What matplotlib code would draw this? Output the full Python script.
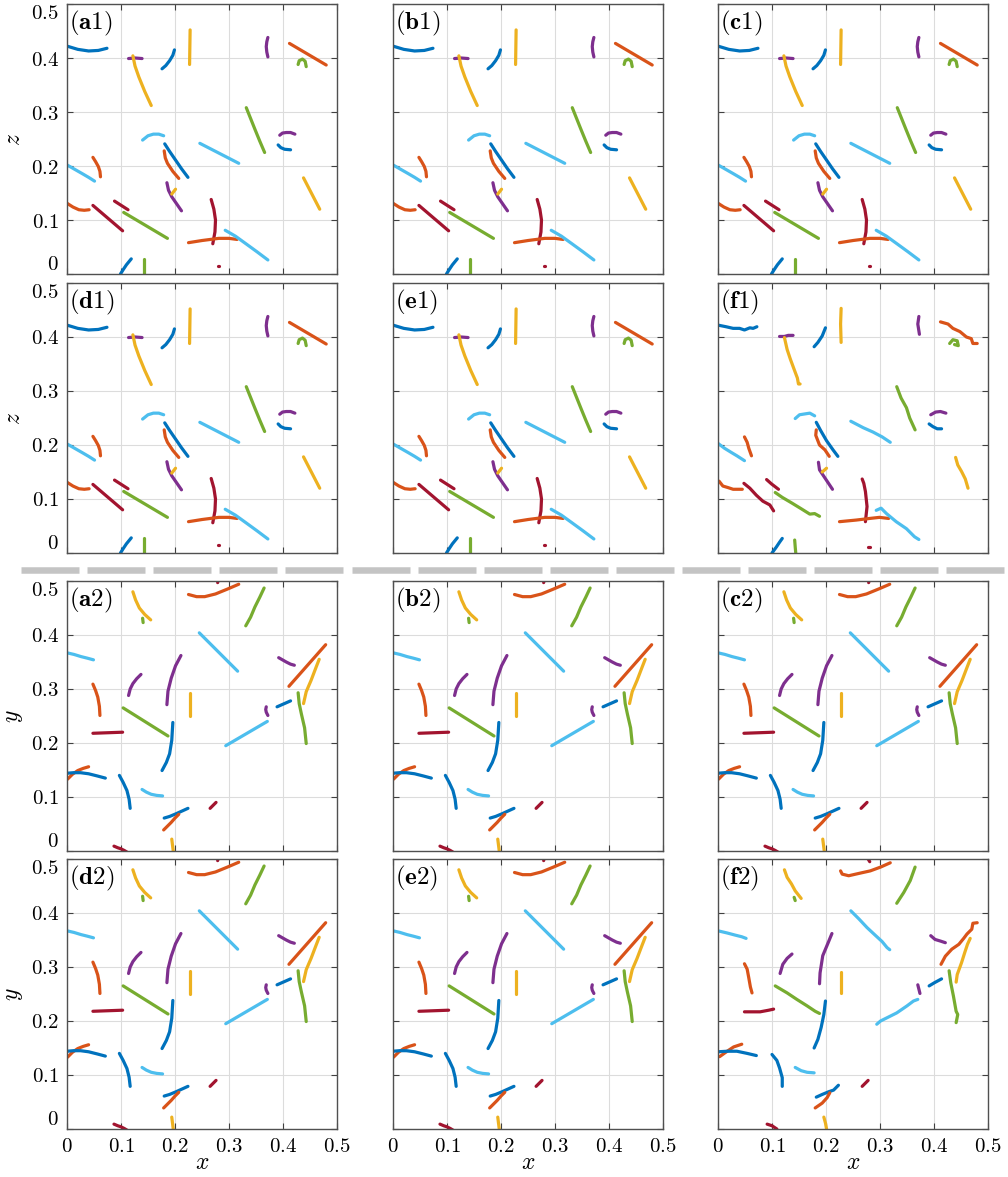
import matplotlib
matplotlib.use('Agg')
import matplotlib.pyplot as plt
from matplotlib.lines import Line2D

plt.rcParams['mathtext.fontset'] = 'cm'
plt.rcParams['font.family'] = ['DejaVu Serif']

# MATLAB default colour order
cols = {'b': '#0072BD', 'o': '#D95319', 'y': '#EDB120', 'p': '#7E2F8E',
        'g': '#77AC30', 'l': '#4DBEEE', 'r': '#A2142F'}

# ---- x-z projection (top half), panels a1..e1 ----
xz_x = [
    [0.000, 0.020, 0.040, 0.058, 0.074], [0.114, 0.126, 0.139],
    [0.122, 0.126, 0.133, 0.144, 0.156], [0.176, 0.183, 0.190, 0.196, 0.199],
    [0.228, 0.227], [0.372, 0.370, 0.369, 0.370, 0.372],
    [0.412, 0.480], [0.428, 0.430, 0.436, 0.441, 0.443],
    [0.332, 0.340, 0.348, 0.357, 0.366], [0.140, 0.150, 0.160, 0.170, 0.179],
    [0.246, 0.318], [0.394, 0.399, 0.406, 0.414, 0.422],
    [0.391, 0.396, 0.403, 0.414], [0.181, 0.190, 0.201, 0.212, 0.224],
    [0.180, 0.182, 0.186, 0.196, 0.207], [0.000, 0.014, 0.028, 0.040, 0.051],
    [0.048, 0.053, 0.058, 0.061, 0.062], [0.185, 0.188, 0.194, 0.203, 0.212],
    [0.194, 0.201], [0.438, 0.468], [0.000, 0.011, 0.022, 0.032, 0.041],
    [0.048, 0.103], [0.088, 0.113], [0.105, 0.186],
    [0.267, 0.272, 0.275, 0.274, 0.270], [0.225, 0.250, 0.281, 0.300, 0.315],
    [0.293, 0.312, 0.330, 0.352, 0.372], [0.099, 0.104, 0.110, 0.119],
    [0.143, 0.143], [0.280, 0.282],
]
xz_z = [
    [0.422, 0.416, 0.413, 0.414, 0.418], [0.399, 0.400, 0.399],
    [0.404, 0.385, 0.365, 0.338, 0.312], [0.380, 0.386, 0.395, 0.405, 0.415],
    [0.452, 0.388], [0.438, 0.430, 0.421, 0.411, 0.402],
    [0.427, 0.387], [0.388, 0.395, 0.398, 0.394, 0.384],
    [0.308, 0.288, 0.268, 0.246, 0.225], [0.248, 0.256, 0.259, 0.259, 0.256],
    [0.242, 0.205], [0.257, 0.261, 0.262, 0.262, 0.259],
    [0.239, 0.234, 0.231, 0.230], [0.241, 0.227, 0.211, 0.195, 0.179],
    [0.228, 0.215, 0.205, 0.190, 0.177], [0.202, 0.194, 0.186, 0.179, 0.172],
    [0.216, 0.208, 0.199, 0.190, 0.180], [0.169, 0.155, 0.143, 0.130, 0.117],
    [0.148, 0.157], [0.178, 0.120], [0.131, 0.124, 0.119, 0.118, 0.119],
    [0.127, 0.080], [0.135, 0.119], [0.114, 0.066],
    [0.138, 0.120, 0.100, 0.078, 0.056], [0.058, 0.062, 0.066, 0.066, 0.064],
    [0.081, 0.070, 0.057, 0.041, 0.026], [0.000, 0.008, 0.017, 0.028],
    [0.027, 0.000], [0.014, 0.014],
]
xz_c = ['b', 'p', 'y', 'b', 'y', 'p', 'o', 'g', 'g', 'l', 'l', 'p', 'b', 'b', 'o',
        'l', 'o', 'p', 'y', 'y', 'o', 'r', 'r', 'g', 'r', 'o', 'l', 'b', 'g', 'r']

# ---- x-y projection (bottom half), panels a2..e2 ----
xy_x = [
    [0.279, 0.282], [0.225, 0.240, 0.255, 0.275, 0.297, 0.318],
    [0.122, 0.127, 0.134, 0.144, 0.155], [0.140, 0.141],
    [0.331, 0.340, 0.348, 0.357, 0.365], [0.245, 0.316],
    [0.000, 0.013, 0.026, 0.038, 0.049], [0.392, 0.399, 0.406, 0.414, 0.421],
    [0.411, 0.479], [0.438, 0.443, 0.452, 0.460, 0.467],
    [0.114, 0.117, 0.122, 0.129, 0.137], [0.185, 0.187, 0.193, 0.201, 0.211],
    [0.227, 0.227], [0.048, 0.053, 0.057, 0.060, 0.061], [0.104, 0.187],
    [0.176, 0.184, 0.190, 0.194, 0.196], [0.048, 0.103], [0.294, 0.371],
    [0.369, 0.368, 0.369, 0.372], [0.389, 0.414],
    [0.428, 0.430, 0.434, 0.440, 0.443], [0.001, 0.010, 0.020, 0.030, 0.040],
    [0.000, 0.012, 0.025, 0.040, 0.056, 0.071], [0.097, 0.104, 0.111, 0.115, 0.117],
    [0.139, 0.147, 0.156, 0.166, 0.177], [0.180, 0.190, 0.202, 0.213, 0.224],
    [0.179, 0.186, 0.193, 0.200, 0.207], [0.265, 0.276],
    [0.087, 0.094, 0.100, 0.106, 0.111], [0.194, 0.197],
]
xy_y = [
    [0.497, 0.510], [0.475, 0.471, 0.471, 0.476, 0.485, 0.494],
    [0.480, 0.465, 0.450, 0.438, 0.428], [0.431, 0.423],
    [0.417, 0.433, 0.452, 0.470, 0.487], [0.404, 0.333],
    [0.367, 0.364, 0.360, 0.357, 0.354], [0.358, 0.354, 0.350, 0.346, 0.344],
    [0.305, 0.382], [0.273, 0.295, 0.316, 0.337, 0.355],
    [0.288, 0.300, 0.310, 0.319, 0.327], [0.271, 0.296, 0.320, 0.343, 0.362],
    [0.292, 0.250], [0.309, 0.297, 0.285, 0.268, 0.251], [0.265, 0.213],
    [0.149, 0.164, 0.180, 0.205, 0.238], [0.218, 0.220], [0.195, 0.240],
    [0.267, 0.262, 0.257, 0.251], [0.267, 0.278],
    [0.293, 0.273, 0.254, 0.228, 0.199], [0.133, 0.142, 0.149, 0.153, 0.156],
    [0.144, 0.145, 0.145, 0.143, 0.139, 0.135], [0.140, 0.127, 0.112, 0.096, 0.079],
    [0.114, 0.109, 0.105, 0.103, 0.102], [0.061, 0.064, 0.069, 0.074, 0.079],
    [0.039, 0.046, 0.053, 0.061, 0.068], [0.079, 0.090],
    [0.009, 0.006, 0.004, 0.001, -0.002], [0.022, -0.002],
]
xy_c = ['r', 'o', 'y', 'g', 'g', 'l', 'l', 'p', 'o', 'y', 'p', 'p', 'y', 'o', 'g',
        'b', 'r', 'l', 'p', 'b', 'g', 'o', 'b', 'b', 'l', 'b', 'o', 'r', 'r', 'y']

# ---- noisy reconstruction, panel f1 (x-z) ----
f1_x = [
    [0.000, 0.015, 0.028, 0.040, 0.049, 0.059, 0.065, 0.072],
    [0.114, 0.123, 0.130, 0.139],
    [0.123, 0.128, 0.134, 0.141, 0.147, 0.149, 0.152],
    [0.178, 0.185, 0.193, 0.199],
    [0.228, 0.227, 0.228],
    [0.372, 0.370, 0.373],
    [0.412, 0.426, 0.435, 0.448, 0.460, 0.469, 0.472, 0.480],
    [0.429, 0.435, 0.443, 0.445, 0.438],
    [0.331, 0.339, 0.349, 0.355, 0.365],
    [0.143, 0.151, 0.170, 0.179],
    [0.246, 0.269, 0.287, 0.304, 0.319],
    [0.394, 0.403, 0.412, 0.422],
    [0.391, 0.398, 0.406, 0.414],
    [0.182, 0.190, 0.201, 0.213, 0.222],
    [0.182, 0.181, 0.188, 0.198, 0.206],
    [0.000, 0.012, 0.025, 0.035, 0.049],
    [0.049, 0.054, 0.057, 0.062],
    [0.186, 0.188, 0.194, 0.204, 0.212],
    [0.193, 0.201],
    [0.440, 0.444, 0.451, 0.458, 0.463],
    [0.002, 0.009, 0.019, 0.028, 0.045],
    [0.048, 0.059, 0.071, 0.083, 0.096, 0.103],
    [0.090, 0.099, 0.112],
    [0.106, 0.119, 0.136, 0.154, 0.170, 0.179, 0.188],
    [0.267, 0.270, 0.273, 0.276, 0.273],
    [0.225, 0.256, 0.281, 0.299, 0.316],
    [0.293, 0.302, 0.312, 0.330, 0.349, 0.364, 0.372],
    [0.100, 0.108, 0.114, 0.119],
    [0.142, 0.143, 0.144],
    [0.278, 0.281],
]
f1_z = [
    [0.422, 0.419, 0.416, 0.416, 0.413, 0.417, 0.416, 0.419],
    [0.401, 0.401, 0.403, 0.403],
    [0.399, 0.377, 0.359, 0.340, 0.324, 0.313, 0.313],
    [0.382, 0.390, 0.402, 0.417],
    [0.453, 0.424, 0.390],
    [0.438, 0.424, 0.405],
    [0.428, 0.424, 0.416, 0.410, 0.400, 0.397, 0.388, 0.388],
    [0.388, 0.395, 0.393, 0.384, 0.386],
    [0.308, 0.287, 0.269, 0.250, 0.228],
    [0.249, 0.256, 0.259, 0.254],
    [0.244, 0.232, 0.224, 0.215, 0.205],
    [0.256, 0.261, 0.262, 0.259],
    [0.239, 0.234, 0.230, 0.230],
    [0.242, 0.227, 0.208, 0.191, 0.179],
    [0.228, 0.218, 0.200, 0.191, 0.179],
    [0.203, 0.194, 0.186, 0.180, 0.171],
    [0.215, 0.205, 0.194, 0.180],
    [0.168, 0.154, 0.145, 0.130, 0.118],
    [0.150, 0.157],
    [0.177, 0.163, 0.151, 0.137, 0.120],
    [0.133, 0.124, 0.121, 0.118, 0.118],
    [0.129, 0.120, 0.107, 0.096, 0.089, 0.078],
    [0.136, 0.128, 0.118],
    [0.112, 0.103, 0.093, 0.082, 0.072, 0.073, 0.068],
    [0.137, 0.129, 0.114, 0.086, 0.058],
    [0.058, 0.061, 0.064, 0.066, 0.064],
    [0.079, 0.083, 0.073, 0.058, 0.045, 0.030, 0.025],
    [0.000, 0.011, 0.020, 0.027],
    [0.024, 0.011, 0.000],
    [0.012, 0.012],
]

# ---- noisy reconstruction, panel f2 (x-y) ----
f2_x = [
    [0.278, 0.281],
    [0.227, 0.230, 0.242, 0.264, 0.282, 0.301, 0.319],
    [0.123, 0.128, 0.136, 0.143, 0.154],
    [0.141, 0.143],
    [0.331, 0.344, 0.356, 0.365],
    [0.246, 0.261, 0.276, 0.291, 0.304, 0.313, 0.318],
    [0.000, 0.017, 0.032, 0.044, 0.052],
    [0.394, 0.402, 0.412, 0.421],
    [0.413, 0.421, 0.433, 0.446, 0.455, 0.461, 0.470, 0.472, 0.480],
    [0.441, 0.443, 0.451, 0.457, 0.462, 0.467],
    [0.115, 0.120, 0.128, 0.137],
    [0.188, 0.189, 0.194, 0.204, 0.211],
    [0.228, 0.228],
    [0.049, 0.054, 0.057, 0.060, 0.063],
    [0.106, 0.128, 0.146, 0.165, 0.180, 0.188],
    [0.178, 0.185, 0.191, 0.196, 0.199],
    [0.049, 0.063, 0.078, 0.094, 0.103],
    [0.294, 0.301, 0.313, 0.331, 0.350, 0.362, 0.370],
    [0.370, 0.372, 0.374],
    [0.391, 0.401, 0.414],
    [0.428, 0.431, 0.436, 0.441, 0.444, 0.441],
    [0.003, 0.017, 0.029, 0.044],
    [0.000, 0.017, 0.035, 0.054, 0.071],
    [0.100, 0.109, 0.114, 0.119, 0.119],
    [0.143, 0.154, 0.165, 0.178],
    [0.182, 0.193, 0.205, 0.214, 0.223],
    [0.180, 0.193, 0.202, 0.207],
    [0.267, 0.273, 0.278],
    [0.091, 0.100, 0.109],
    [0.196, 0.199, 0.201],
]
f2_y = [
    [0.500, 0.495],
    [0.478, 0.472, 0.469, 0.474, 0.478, 0.485, 0.493],
    [0.480, 0.466, 0.454, 0.441, 0.427],
    [0.429, 0.423],
    [0.418, 0.438, 0.460, 0.485],
    [0.404, 0.389, 0.373, 0.359, 0.347, 0.336, 0.332],
    [0.367, 0.363, 0.359, 0.356, 0.353],
    [0.358, 0.351, 0.348, 0.345],
    [0.305, 0.320, 0.333, 0.342, 0.353, 0.361, 0.370, 0.381, 0.382],
    [0.272, 0.286, 0.308, 0.327, 0.342, 0.353],
    [0.288, 0.305, 0.316, 0.324],
    [0.269, 0.289, 0.321, 0.345, 0.362],
    [0.291, 0.251],
    [0.306, 0.296, 0.280, 0.263, 0.252],
    [0.265, 0.252, 0.240, 0.228, 0.218, 0.214],
    [0.150, 0.166, 0.188, 0.212, 0.237],
    [0.217, 0.217, 0.217, 0.220, 0.222],
    [0.194, 0.200, 0.206, 0.215, 0.228, 0.237, 0.240],
    [0.267, 0.259, 0.251],
    [0.265, 0.271, 0.278],
    [0.293, 0.271, 0.246, 0.218, 0.212, 0.197],
    [0.134, 0.144, 0.152, 0.157],
    [0.143, 0.144, 0.144, 0.140, 0.136],
    [0.138, 0.127, 0.113, 0.095, 0.079],
    [0.114, 0.108, 0.105, 0.104],
    [0.059, 0.064, 0.069, 0.072, 0.081],
    [0.039, 0.048, 0.058, 0.067],
    [0.079, 0.085, 0.090],
    [0.009, 0.006, 0.000],
    [0.022, 0.011, 0.000],
]

letters = ['a', 'b', 'c', 'd', 'e', 'f']
ticks = [0, 0.1, 0.2, 0.3, 0.4, 0.5]
tick_txt = ['$0$', '$0.1$', '$0.2$', '$0.3$', '$0.4$', '$0.5$']

fig = plt.figure(figsize=(10.08, 11.77), dpi=100)
W, H = 1008.0, 1177.0
lefts = [67, 393, 718]
bottoms = [274, 553, 851, 1129]   # pixel row of each panel's lower edge
pw, ph = 270, 270


def draw_panel(ax, xs, ys, cs, label, show_x, show_y, ylab):
    for xx, yy, c in zip(xs, ys, cs):
        ax.plot(xx, yy, color=cols[c], lw=2.3, solid_capstyle='round',
                solid_joinstyle='round')
    ax.set_xlim(0, 0.5)
    ax.set_ylim(0, 0.5)
    ax.set_xticks(ticks)
    ax.set_yticks(ticks)
    ax.grid(True, color='#dcdcdc', lw=0.8)
    ax.set_axisbelow(True)
    ax.tick_params(direction='in', top=True, right=True, length=4, width=0.8,
                   color='#404040', labelsize=15, pad=6)
    for sp in ax.spines.values():
        sp.set_color('#505050')
        sp.set_linewidth(1.0)
    if show_x:
        ax.set_xticklabels(tick_txt)
        ax.set_xlabel('$x$', fontsize=17, labelpad=-4)
    else:
        ax.set_xticklabels([])
    if show_y:
        ax.set_yticklabels(tick_txt)
        tl = ax.get_yticklabels()
        tl[0].set_va('bottom')
        tl[-1].set_va('top')
        ax.set_ylabel(ylab, fontsize=17, labelpad=4)
    else:
        ax.set_yticklabels([])
    ax.text(0.006, 0.982, r'$(\mathbf{' + label + '})$', transform=ax.transAxes,
            ha='left', va='top', fontsize=18)


for r in range(4):
    half = 0 if r < 2 else 1
    for cidx in range(3):
        k = (r % 2) * 3 + cidx
        ax = fig.add_axes([lefts[cidx] / W, 1 - bottoms[r] / H, pw / W, ph / H])
        lab = letters[k] + ('1' if half == 0 else '2')
        if half == 0:
            if letters[k] == 'f':
                xs, ys = f1_x, f1_z
            else:
                xs, ys = xz_x, xz_z
            cs = xz_c
            ylab = '$z$'
        else:
            if letters[k] == 'f':
                xs, ys = f2_x, f2_y
            else:
                xs, ys = xy_x, xy_y
            cs = xy_c
            ylab = '$y$'
        draw_panel(ax, xs, ys, cs, lab, show_x=(r == 3), show_y=(cidx == 0), ylab=ylab)

# dashed separator between the two halves
ysep = 1 - 570 / H
for i in range(15):
    x0 = (21 + i * 66.1) / W
    fig.add_artist(Line2D([x0, x0 + 58 / W], [ysep, ysep], transform=fig.transFigure,
                          lw=6.5 * 0.72, color='#c4c4c4', solid_capstyle='butt'))

fig.savefig('out.png', dpi=100)
